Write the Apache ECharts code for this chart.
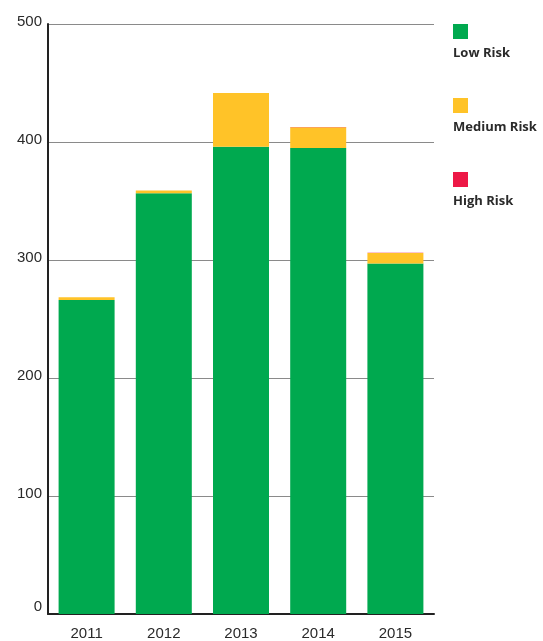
<!DOCTYPE html>
<html>
<head>
<meta charset="utf-8">
<script src="https://cdn.jsdelivr.net/npm/echarts@6/dist/echarts.min.js"></script>
<style>html,body{margin:0;padding:0;background:#fff}#c{width:543px;height:641px}</style>
</head>
<body>
<div id="c"></div>
<script>
var categories = ['2011', '2012', '2013', '2014', '2015'];
var lowRisk = [266, 356.5, 396, 395, 297];
var mediumRisk = [2.5, 2.5, 45.5, 17.5, 9];
var highRisk = [0, 0, 0, 0.2, 0.2];
var seriesNames = ['Low Risk', 'Medium Risk', 'High Risk'];
var seriesColors = ['#00A94F', '#FFC328', '#ED1846'];
var yTicks = [0, 100, 200, 300, 400, 500];

var chart = echarts.init(document.getElementById('c'));
var dataSets = [lowRisk, mediumRisk, highRisk];
var series = dataSets.map(function (d, i) {
  return {
    name: seriesNames[i], type: 'bar', stack: 'risk', data: d,
    barWidth: 56, itemStyle: { color: seriesColors[i] }, emphasis: { disabled: true }
  };
});
var graphics = [];
seriesNames.forEach(function (n, i) {
  graphics.push({ type: 'rect', left: 453, top: 24 + i * 74, shape: { width: 15, height: 15 }, style: { fill: seriesColors[i] } });
  graphics.push({ type: 'text', left: 453, top: 47 + i * 74, style: { text: n, fill: '#2a2a2a', font: 'bold 13px "Open Sans", sans-serif' } });
});
var fam = '"Liberation Sans", Arial, sans-serif';
chart.setOption({
  animation: false,
  grid: { left: 48, right: 109, top: 24, bottom: 27, containLabel: false },
  xAxis: {
    type: 'category', data: categories,
    axisLine: { lineStyle: { color: '#222', width: 2 } },
    axisTick: { show: false },
    axisLabel: { color: '#2a2a2a', fontSize: 15, margin: 12, fontFamily: fam }
  },
  yAxis: {
    type: 'value', min: yTicks[0], max: yTicks[yTicks.length - 1], interval: 100,
    axisLine: { show: true, lineStyle: { color: '#222', width: 2 } },
    axisTick: { show: false },
    splitLine: { lineStyle: { color: '#8a8a8a', width: 1 } },
    axisLabel: {
      color: '#2a2a2a', fontSize: 15, margin: 6, fontFamily: fam, verticalAlign: 'bottom',
      formatter: function (v) { return v === 0 ? '{z|0}' : '{n|' + v + '}'; },
      rich: {
        n: { color: '#2a2a2a', fontSize: 15, fontFamily: fam, lineHeight: 4 },
        z: { color: '#2a2a2a', fontSize: 15, fontFamily: fam, lineHeight: 14 }
      }
    }
  },
  graphic: graphics,
  series: series
});
</script>
</body>
</html>
